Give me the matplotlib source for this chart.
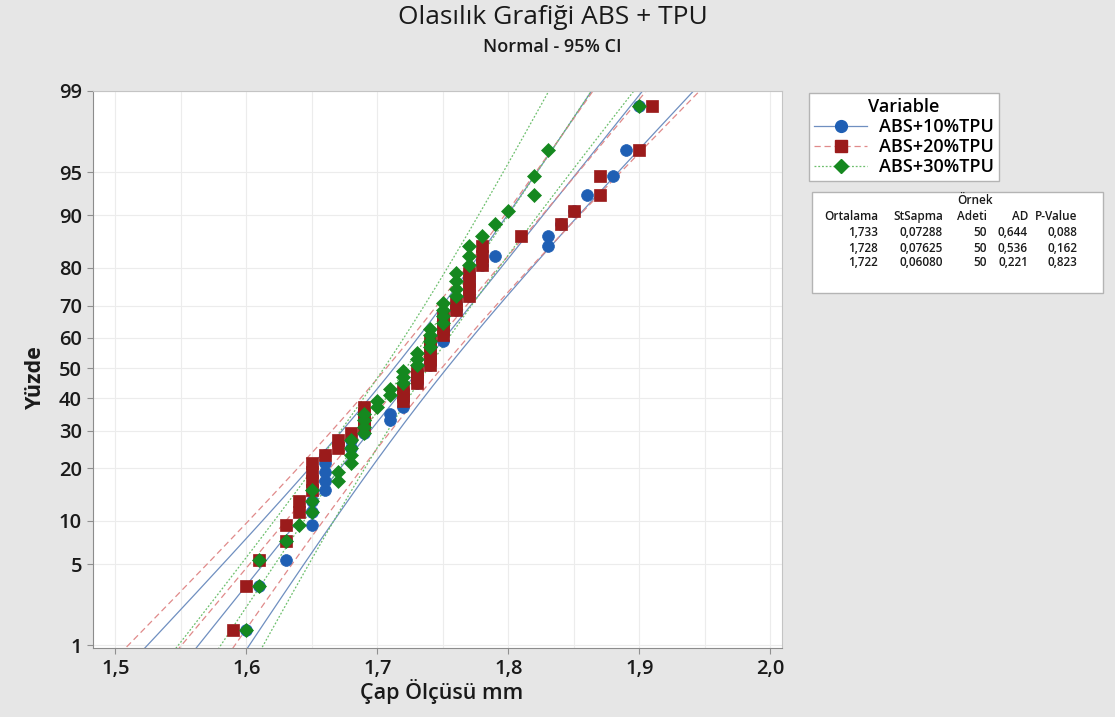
import math
import numpy as np
import matplotlib
matplotlib.use("Agg")
import matplotlib.pyplot as plt
from matplotlib.lines import Line2D
from matplotlib.patches import Rectangle

plt.rcParams['font.family'] = ['Open Sans', 'DejaVu Sans']

abs10 = [1.60, 1.61, 1.63, 1.63, 1.65, 1.65, 1.65, 1.66, 1.66, 1.66, 1.66, 1.66,
         1.68, 1.68, 1.69, 1.69, 1.71, 1.71, 1.72, 1.72, 1.72, 1.72, 1.73, 1.73,
         1.73, 1.74, 1.74, 1.74, 1.74, 1.75, 1.75, 1.75, 1.75, 1.75, 1.76, 1.76,
         1.77, 1.77, 1.77, 1.77, 1.78, 1.79, 1.83, 1.83, 1.84, 1.85, 1.86, 1.88,
         1.89, 1.90]
abs20 = [1.59, 1.60, 1.61, 1.63, 1.63, 1.64, 1.64, 1.65, 1.65, 1.65, 1.65, 1.66,
         1.67, 1.67, 1.68, 1.69, 1.69, 1.69, 1.69, 1.72, 1.72, 1.72, 1.73, 1.73,
         1.73, 1.74, 1.74, 1.74, 1.74, 1.74, 1.75, 1.75, 1.75, 1.75, 1.76, 1.76,
         1.77, 1.77, 1.77, 1.77, 1.78, 1.78, 1.78, 1.81, 1.84, 1.85, 1.87, 1.87,
         1.90, 1.91]
abs30 = [1.60, 1.61, 1.61, 1.63, 1.64, 1.65, 1.65, 1.65, 1.67, 1.67, 1.68, 1.68,
         1.68, 1.68, 1.69, 1.69, 1.69, 1.69, 1.70, 1.70, 1.71, 1.71, 1.72, 1.72,
         1.72, 1.73, 1.73, 1.73, 1.74, 1.74, 1.74, 1.74, 1.75, 1.75, 1.75, 1.75,
         1.76, 1.76, 1.76, 1.76, 1.77, 1.77, 1.77, 1.78, 1.79, 1.80, 1.82, 1.82,
         1.83, 1.90]

names = ['ABS+10%TPU', 'ABS+20%TPU', 'ABS+30%TPU']
means = [1.733, 1.728, 1.722]
stdevs = [0.07288, 0.07625, 0.06080]
n_obs = [50, 50, 50]
ad_vals = ['0,644', '0,536', '0,221']
p_vals = ['0,088', '0,162', '0,823']

x_ticks = [1.5, 1.6, 1.7, 1.8, 1.9, 2.0]
y_ticks = [1, 5, 10, 20, 30, 40, 50, 60, 70, 80, 90, 95, 99]

marker_cols = ['#1f5fb4', '#9b1b1b', '#15881f']
line_cols = ['#6f8fc0', '#e08a8a', '#6cbf6c']
markers = ['o', 's', 'D']
msizes = [8.5, 8.0, 7.5]
lstyles = ['-', (0, (5, 3)), (0, (1.5, 1.5))]


# inverse normal cdf (Acklam) so no scipy is needed
_a = [-3.969683028665376e+01, 2.209460984245205e+02, -2.759285104469687e+02,
      1.383577518672690e+02, -3.066479806614716e+01, 2.506628277459239e+00]
_b = [-5.447609879822406e+01, 1.615858368580409e+02, -1.556989798598866e+02,
      6.680131188771972e+01, -1.328068155288572e+01]
_c = [-7.784894002430293e-03, -3.223964580411365e-01, -2.400758277161838e+00,
      -2.549732539343734e+00, 4.374664141464968e+00, 2.938163982698783e+00]
_d = [7.784695709041462e-03, 3.224671290700398e-01, 2.445134137142996e+00,
      3.754408661907416e+00]


def _ppf1(p):
    p = min(max(p, 1e-12), 1 - 1e-12)
    if p < 0.02425:
        q = math.sqrt(-2 * math.log(p))
        return (((((_c[0]*q+_c[1])*q+_c[2])*q+_c[3])*q+_c[4])*q+_c[5]) / \
               ((((_d[0]*q+_d[1])*q+_d[2])*q+_d[3])*q+1)
    if p > 1 - 0.02425:
        return -_ppf1(1 - p)
    q = p - 0.5
    r = q * q
    return (((((_a[0]*r+_a[1])*r+_a[2])*r+_a[3])*r+_a[4])*r+_a[5])*q / \
           (((((_b[0]*r+_b[1])*r+_b[2])*r+_b[3])*r+_b[4])*r+1)


def pct_to_z(pct):
    pct = np.asarray(pct, dtype=float)
    return np.vectorize(_ppf1, otypes=[float])(pct / 100.0)


def z_to_pct(z):
    z = np.asarray(z, dtype=float)
    return np.vectorize(lambda v: 50.0 * (1 + math.erf(v / math.sqrt(2))), otypes=[float])(z)


fig = plt.figure(figsize=(11.15, 7.17), dpi=100, facecolor='#e6e6e6')
ax = fig.add_axes([93/1115, 1-648/717, (782-93)/1115, (648-91)/717])
ax.set_yscale('function', functions=(pct_to_z, z_to_pct))

zz = np.linspace(-2.7, 2.7, 300)
pp = z_to_pct(zz)
for k, vals in enumerate([abs10, abs20, abs30]):
    vals = np.sort(np.array(vals))
    n = len(vals)
    ranks = (np.arange(1, n + 1) - 0.3) / (n + 0.4) * 100
    mu, sd = means[k], stdevs[k]
    fit = mu + zz * sd
    se = sd / math.sqrt(n_obs[k]) * np.sqrt(1 + zz**2 / 2)
    for xs in (fit, fit - 1.96 * se, fit + 1.96 * se):
        ax.plot(xs, pp, color=line_cols[k], ls=lstyles[k], lw=0.9, zorder=2)
    ax.plot(vals, ranks, ls='none', marker=markers[k], ms=msizes[k],
            mfc=marker_cols[k], mec=marker_cols[k], mew=0.5, zorder=3 + k)

ax.set_xticks(x_ticks)
ax.set_xticklabels([f'{v:.1f}'.replace('.', ',') for v in x_ticks])
ax.set_yticks(y_ticks)
ax.set_yticklabels([str(v) for v in y_ticks])
ax.set_xticks([1.55, 1.65, 1.75, 1.85, 1.95], minor=True)
ax.yaxis.set_minor_locator(matplotlib.ticker.NullLocator())
ax.set_xlim(1.483, 2.009)
ax.set_ylim(0.94, 99.0)
ax.grid(True, which='both', axis='x', color='#ececec', lw=0.8, zorder=0)
ax.grid(True, which='major', axis='y', color='#ececec', lw=0.8, zorder=0)
ax.tick_params(axis='both', which='major', labelsize=14.5, length=4,
               color='#909090', pad=4, labelcolor='#1a1a1a')
ax.tick_params(axis='x', which='minor', length=0)
for lab in ax.get_xticklabels() + ax.get_yticklabels():
    lab.set_fontweight('semibold')
for s in ax.spines.values():
    s.set_color('#c4c4c4')
ax.spines['left'].set_color('#8c8c8c')
ax.spines['bottom'].set_color('#8c8c8c')

fig.text(553/1115, 1-18/717, 'Olasılık Grafiği ABS + TPU', ha='center', va='center',
         fontsize=19, color='#1a1a1a')
fig.text(552/1115, 1-47/717, 'Normal - 95% CI', ha='center', va='center',
         fontsize=13, color='#1a1a1a', fontweight='semibold')
fig.text(35/1115, 1-377/717, 'Yüzde', rotation=90, ha='center', va='center',
         fontsize=15.5, fontweight='bold', color='#1a1a1a')
fig.text(442/1115, 1-691/717, 'Çap Ölçüsü mm', ha='center', va='center',
         fontsize=15.5, fontweight='semibold', color='#1a1a1a')

# legend
handles = [Line2D([0], [0], color=line_cols[k], ls=lstyles[k], lw=0.9,
                  marker=markers[k], ms=msizes[k], mfc=marker_cols[k],
                  mec=marker_cols[k]) for k in range(3)]
leg = fig.legend(handles, names, title='Variable', loc='upper left',
                 bbox_to_anchor=(809/1115, 1-93/717), fontsize=13,
                 title_fontsize=13, frameon=True, fancybox=False, framealpha=1,
                 borderpad=0.3, labelspacing=0.1, handlelength=2.9,
                 handletextpad=0.65, borderaxespad=0)
leg.get_frame().set_edgecolor('#b4b4b4')
leg.get_frame().set_linewidth(1.0)
for t in leg.get_texts():
    t.set_fontweight('semibold')
leg.get_title().set_fontweight('semibold')

# statistics box
fig.patches.append(Rectangle((812/1115, 1-293/717), (1103-812)/1115, (293-192)/717,
                             transform=fig.transFigure, facecolor='white',
                             edgecolor='#b4b4b4', lw=1.0))
col_right = [878, 943, 987, 1028, 1077]
headers = ['Ortalama', 'StSapma', 'Adeti', 'AD', 'P-Value']
tkw = dict(fontsize=8.5, color='#1a1a1a', ha='right', va='center', fontweight='semibold')
fig.text(975/1115, 1-201/717, 'Örnek', ha='center', va='center', fontsize=8.5,
         color='#1a1a1a', fontweight='semibold')
for xr, h in zip(col_right, headers):
    fig.text(xr/1115, 1-217/717, h, **tkw)
row_y = [233, 248, 263]
for k in range(3):
    cells = [f'{means[k]:.3f}'.replace('.', ','), f'{stdevs[k]:.5f}'.replace('.', ','),
             str(n_obs[k]), ad_vals[k], p_vals[k]]
    for xr, c in zip(col_right, cells):
        fig.text(xr/1115, 1-row_y[k]/717, c, **tkw)

fig.savefig('out.png', dpi=100, facecolor=fig.get_facecolor())
